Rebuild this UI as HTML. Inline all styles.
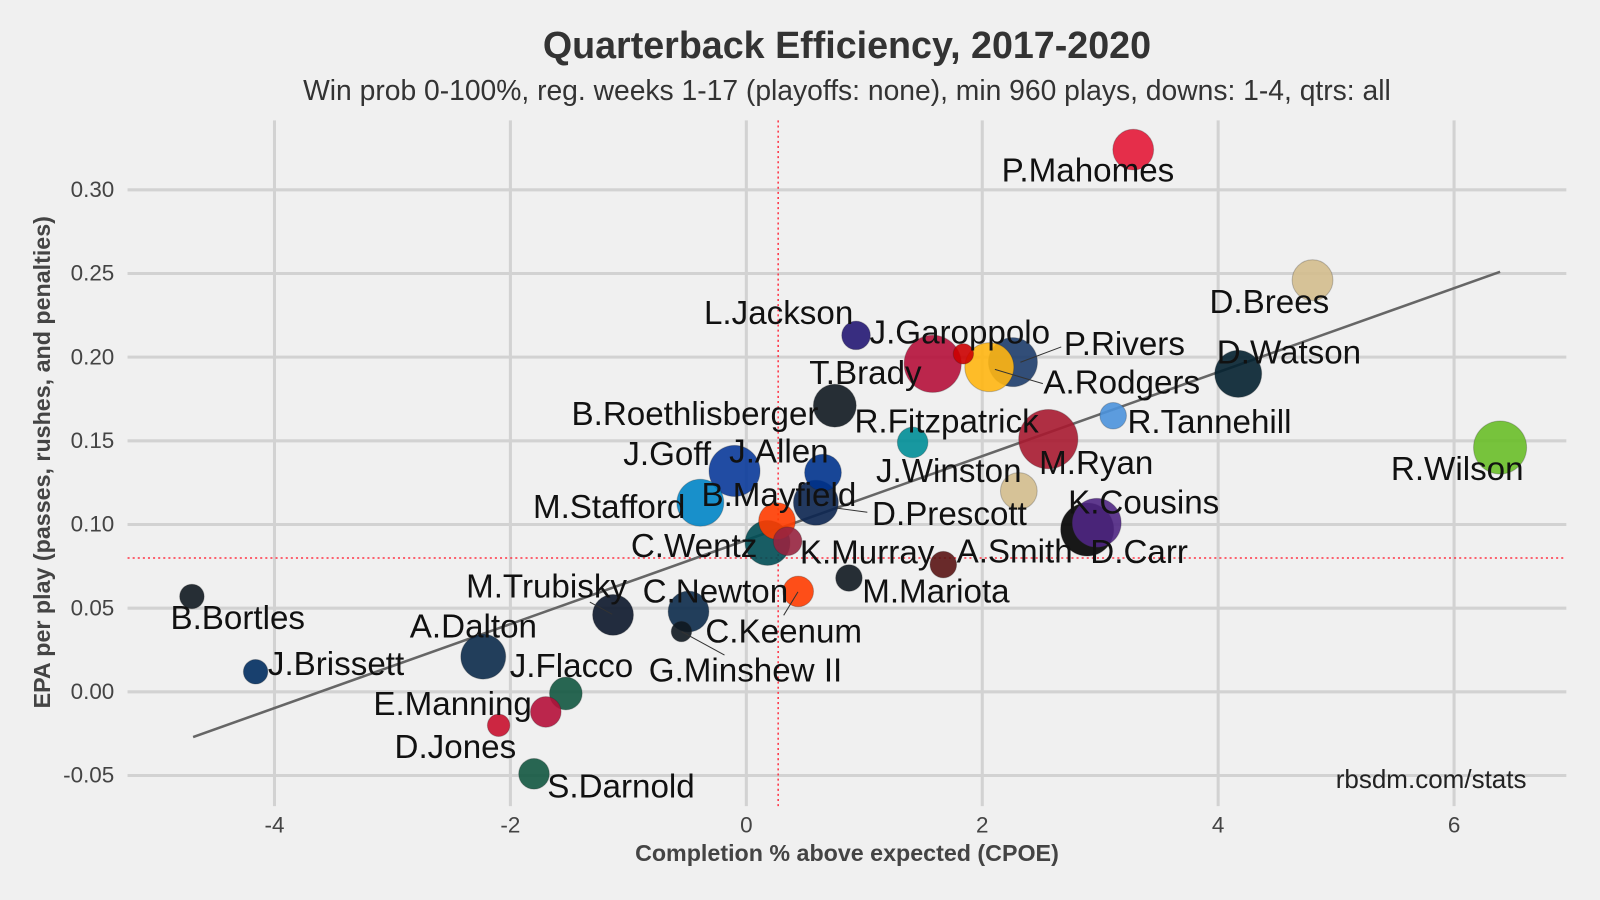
<!DOCTYPE html>
<html><head><meta charset="utf-8"><style>
html,body{margin:0;padding:0;background:#f0f0f0;}
svg{display:block;font-family:"Liberation Sans",sans-serif;}
</style></head><body>
<svg id="chart" width="1600" height="900" viewBox="0 0 1568 882">
<rect width="1568" height="882" fill="#f0f0f0"/>
<text x="830" y="57" text-anchor="middle" font-size="36.9" font-weight="bold" fill="#333">Quarterback Efficiency, 2017-2020</text>
<text x="830" y="98" text-anchor="middle" font-size="27.7" fill="#333">Win prob 0-100%, reg. weeks 1-17 (playoffs: none), min 960 plays, downs: 1-4, qtrs: all</text>
<g id="grid"></g>
<g id="ticks"></g>
<g id="refs"></g>
<g id="points"></g>
<g id="labels"></g>
<text x="830" y="844" text-anchor="middle" font-size="22.8" font-weight="bold" fill="#444">Completion % above expected (CPOE)</text>
<text transform="translate(49,453) rotate(-90)" text-anchor="middle" font-size="22.8" font-weight="bold" fill="#444">EPA per play (passes, rushes, and penalties)</text>
<text x="1496" y="772" text-anchor="end" font-size="25.5" fill="#222">rbsdm.com/stats</text>
</svg>
<script>
const players=["P.Mahomes","D.Brees","D.Watson","R.Wilson","L.Jackson","T.Brady","J.Garoppolo","P.Rivers","A.Rodgers","B.Roethlisberger","R.Tannehill","R.Fitzpatrick","M.Ryan","J.Goff","J.Allen","J.Winston","M.Stafford","D.Prescott","B.Mayfield","K.Cousins","D.Carr","C.Wentz","K.Murray","A.Smith","M.Mariota","C.Keenum","C.Newton","M.Trubisky","G.Minshew II","B.Bortles","J.Brissett","A.Dalton","J.Flacco","E.Manning","D.Jones","S.Darnold"];
const cpoe=[3.28,4.80,4.17,6.39,0.93,1.58,1.84,2.26,2.06,0.75,3.11,1.41,2.56,-0.10,0.65,2.31,-0.39,0.59,0.26,2.97,2.89,0.18,0.35,1.67,0.87,0.44,-0.49,-1.13,-0.55,-4.70,-4.16,-2.23,-1.53,-1.70,-2.10,-1.80];
const epa=[0.324,0.246,0.190,0.146,0.213,0.196,0.202,0.197,0.194,0.171,0.165,0.149,0.151,0.132,0.131,0.120,0.113,0.113,0.102,0.101,0.097,0.089,0.090,0.076,0.068,0.060,0.048,0.046,0.036,0.057,0.012,0.021,-0.001,-0.012,-0.020,-0.049];
const plays=[20,20,23,26,14,28,10,24,24,21,13,15,29,25,18,18,23,22,18,24,26,22,14,13,13,15,20,20,10,12,12,22,16,15,11,15];
const colors=["#e31837","#d3bc8d","#03202f","#69be28","#241773","#b5103a","#cc0000","#1d3c6a","#ffb612","#101820","#4b92db","#008e97","#a71930","#0a3a9a","#00338d","#d3bc8d","#0085c6","#0b2550","#ff3c00","#4f2683","#000000","#004c54","#97233f","#5a1414","#101820","#ff3c00","#0b2a4a","#0b162a","#101820","#101820","#002c5f","#0b2a4a","#125740","#b5103a","#c8102e","#125740"];
const labelDx=[-129,-101,-21,-107,-149,-121,-92,50,53,-258,14,-57,-9,-109,-92,-140,-164,55,-74,-28,3,-134,12,13,13,-91,-45,-144,-32,-21,12,-72,-55,-169,-102,13];
const labelDy=[31,32,-10,32,-11,20,-10,-7,26,19,17,-10,34,-6,-10,-9,15,22,-15,-9,33,14,22,-2,24,50,-9,-17,49,32,3,-19,-16,3,32,23];
const leaders={"P.Rivers":[1000,355,1040,340],"A.Rodgers":[975,362,1022,376],"D.Prescott":[820,498,850,502],"M.Trubisky":[578,590,600,602],"C.Keenum":[782,580,768,603],"G.Minshew II":[668,619,710,642]};
const xTicks=[-4,-2,0,2,4,6];
const yTicks=[-0.05,0,0.05,0.10,0.15,0.20,0.25,0.30];
const yTickLabels=["-0.05","0.00","0.05","0.10","0.15","0.20","0.25","0.30"];
const refX=0.27, refY=0.080;
const fitX=[-4.69,6.39], fitY=[-0.027,0.251];

const X=v=>731.4+v*115.6;
const Y=v=>678-v*1640;
const NS="http://www.w3.org/2000/svg";
function mk(tag,attrs,parent){const e=document.createElementNS(NS,tag);for(const k in attrs)e.setAttribute(k,attrs[k]);parent.appendChild(e);return e;}
const grid=document.getElementById('grid'),ticks=document.getElementById('ticks'),refs=document.getElementById('refs'),pts=document.getElementById('points'),labs=document.getElementById('labels');
xTicks.forEach(t=>{
  const l=mk('line',{x1:X(t),x2:X(t),y1:118,y2:790,stroke:'#d2d2d2','stroke-width':3},grid);
  
  
  const tx=mk('text',{x:X(t),y:816,'text-anchor':'middle','font-size':22,fill:'#444'},ticks);
  tx.textContent=t;
  
  
});
yTicks.forEach((t,i)=>{
  const l=mk('line',{x1:125,x2:1535,y1:Y(t),y2:Y(t),stroke:'#d2d2d2','stroke-width':3},grid);
  
  
  const tx=mk('text',{x:112,y:Y(t)+7,'text-anchor':'end','font-size':22,fill:'#444'},ticks);
  tx.textContent=yTickLabels[i];
  
  
});
let r1=mk('line',{x1:X(refX),x2:X(refX),y1:118,y2:790,stroke:'#ff3344','stroke-width':1.5,'stroke-dasharray':'2,3'},refs);


let r2=mk('line',{x1:125,x2:1535,y1:Y(refY),y2:Y(refY),stroke:'#ff3344','stroke-width':1.5,'stroke-dasharray':'2,3'},refs);


let fl=mk('line',{x1:X(fitX[0]),y1:Y(fitY[0]),x2:X(fitX[1]),y2:Y(fitY[1]),stroke:'#666','stroke-width':2.5},refs);


const order=players.map((p,i)=>i).sort((a,b)=>plays[b]-plays[a]);
order.forEach(i=>{
  const c=mk('circle',{cx:X(cpoe[i]),cy:Y(epa[i]),r:plays[i],fill:colors[i],'fill-opacity':0.9,stroke:'#222','stroke-opacity':0.25,'stroke-width':1},pts);
  
  
});
players.forEach((p,i)=>{
  if(leaders[p]){const a=leaders[p];
    const ln=mk('line',{x1:a[0],y1:a[1],x2:a[2],y2:a[3],stroke:'#333','stroke-width':1},labs);
    
    }
  const t=mk('text',{x:X(cpoe[i])+labelDx[i],y:Y(epa[i])+labelDy[i],'font-size':32.5,fill:'#111'},labs);
  t.textContent=p;
  
  
});
</script>
</body></html>
